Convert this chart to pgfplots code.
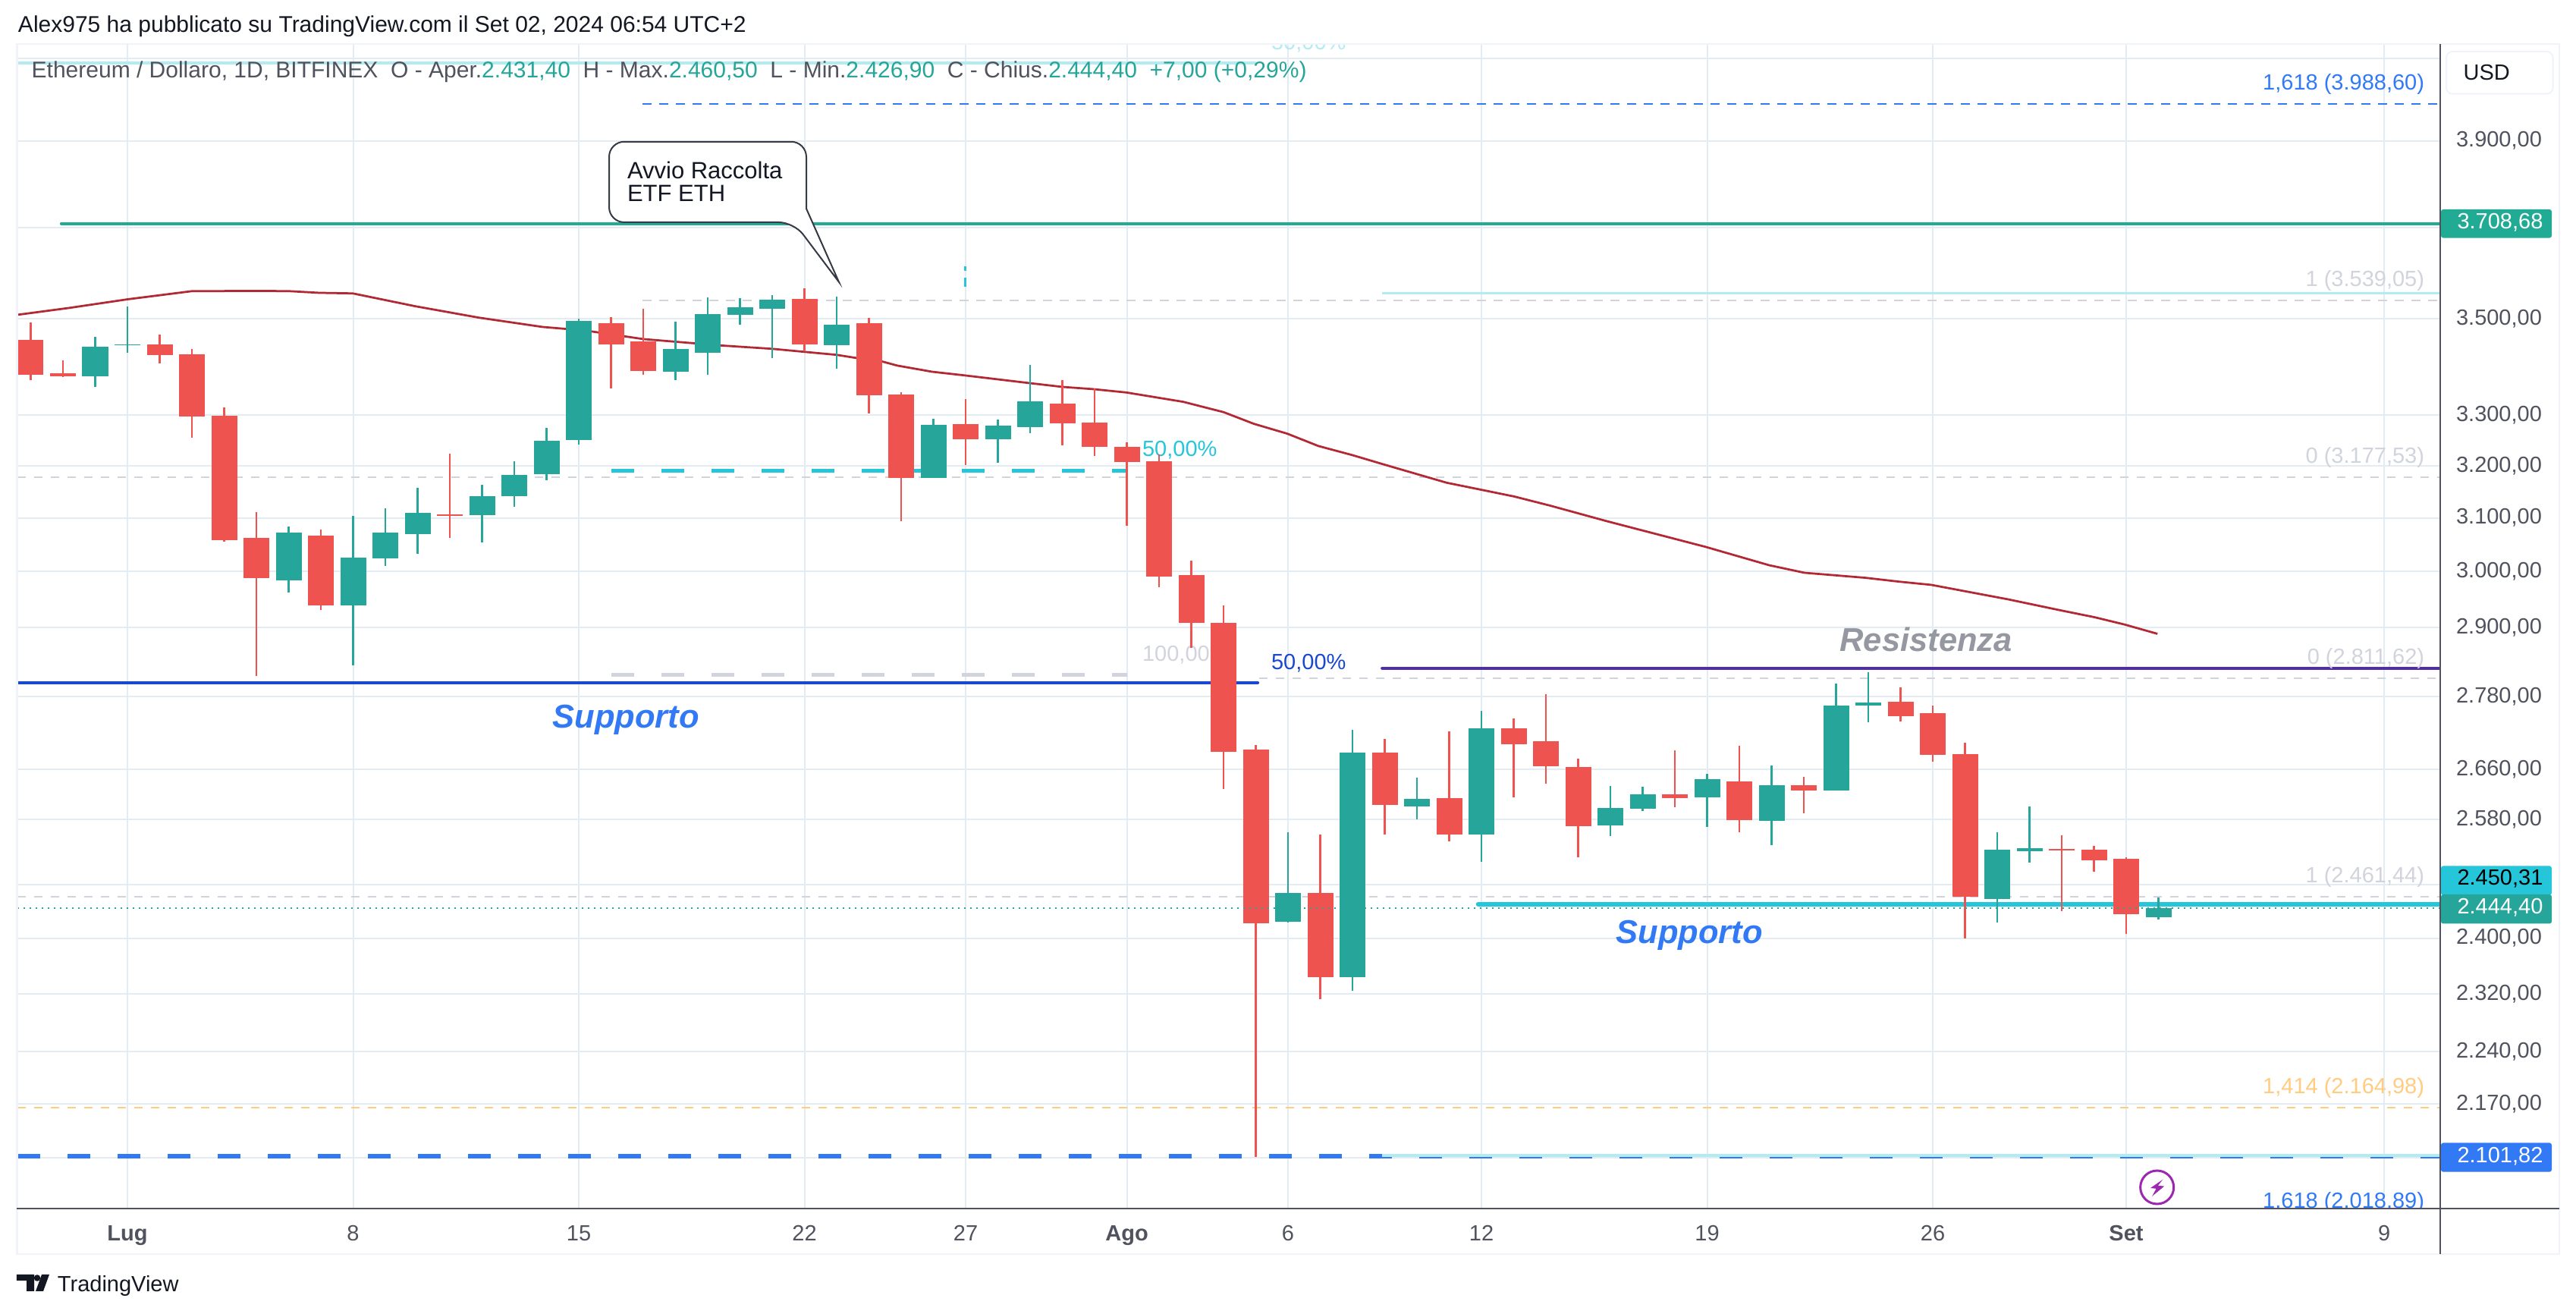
\documentclass[border=0pt]{standalone}
\usepackage{pgfplots}
\pgfplotsset{compat=1.18}
\usepackage{fontspec}
\setmainfont{Liberation Sans}
\definecolor{cGreen}{HTML}{26A69A}
\definecolor{cRed}{HTML}{EF5350}
\definecolor{cGrid}{HTML}{E3ECF2}
\definecolor{cFrame}{HTML}{F0F3FA}
\definecolor{cAxis}{HTML}{50535E}
\definecolor{cMA}{HTML}{B22833}
\definecolor{cTeal}{HTML}{22AB94}
\definecolor{cCyan}{HTML}{26C6DA}
\definecolor{cLCyan}{HTML}{B2EBF2}
\definecolor{cBlue}{HTML}{3179F5}
\definecolor{cDBlue}{HTML}{1848CC}
\definecolor{cPurple}{HTML}{512DA8}
\definecolor{cGray}{HTML}{D1D4DC}
\definecolor{cOrange}{HTML}{FFCC80}
\definecolor{cDark}{HTML}{131722}
\definecolor{cOut}{HTML}{363A45}
\definecolor{cRes}{HTML}{9598A1}
\definecolor{cBolt}{HTML}{9C27B0}
\newcommand{\fs}{\fontsize{5.8}{7}\selectfont}
\newcommand{\cu}[5]{%
  \addplot[cGreen,line width=0.45pt] coordinates {(#1,#4)(#1,#3)};
  \addplot[cGreen,line width=6.8pt] coordinates {(#1,#2)(#1,#5)};}
\newcommand{\cd}[5]{%
  \addplot[cRed,line width=0.45pt] coordinates {(#1,#4)(#1,#3)};
  \addplot[cRed,line width=6.8pt] coordinates {(#1,#2)(#1,#5)};}
\newcommand{\hl}[4]{\addplot[#1] coordinates {(#2,#4)(#3,#4)};}
\begin{document}
\begin{tikzpicture}
\path[use as bounding box,fill=white] (0,0) rectangle (679.2pt,346.2pt);
\begin{axis}[
  at={(4.5pt,27.6pt)},anchor=south west,
  scale only axis,width=638.9pt,height=307pt,
  ymode=log,
  xmin=-3.4235,xmax=71.741,ymin=2035.9,ymax=4137,
  axis line style={draw=none},
  tick style={draw=none},
  grid=major,
  major grid style={cGrid,line width=0.4pt},
  xtick={0,7,14,21,26,31,36,42,49,56,62,70},
  xticklabels={\textbf{Lug},8,15,22,27,\textbf{Ago},6,12,19,26,\textbf{Set},9},
  xticklabel style={anchor=north,inner sep=0pt,yshift=-4.3pt,font=\fs,text=cAxis},
  ytick={4100,3900,3700,3500,3300,3200,3100,3000,2900,2780,2660,2580,2480,2400,2320,2240,2170,2100},
  yticklabels={,{3.900,00},,{3.500,00},{3.300,00},{3.200,00},{3.100,00},{3.000,00},{2.900,00},{2.780,00},{2.660,00},{2.580,00},,{2.400,00},{2.320,00},{2.240,00},{2.170,00},},
  yticklabel pos=right,
  yticklabel style={anchor=west,inner sep=0pt,xshift=4pt,font=\fs,text=cAxis},
  every axis plot/.append style={forget plot},
]
% horizontal levels
\hl{cLCyan,line width=0.8pt}{-3.42}{35.01}{4089}
\hl{cBlue,line width=0.4pt,dash pattern=on 2.3pt off 2.1pt}{15.98}{71.74}{3988.6}
\hl{cTeal,line width=0.8pt,line cap=round}{-2.05}{71.74}{3708.68}
\hl{cLCyan,line width=0.7pt}{38.92}{71.74}{3554}
\hl{cGray,line width=0.4pt,dash pattern=on 2.3pt off 2.1pt}{15.98}{71.74}{3539.05}
\hl{cGray,line width=0.4pt,dash pattern=on 2.3pt off 2.1pt}{-3.42}{71.74}{3177.53}
\hl{cCyan,line width=1pt,dash pattern=on 6pt off 7.2pt}{15.01}{31}{3190.5}
\hl{cGray,line width=1pt,dash pattern=on 6pt off 7.2pt}{15.01}{31}{2818}
\hl{cGray,line width=0.4pt,dash pattern=on 2.3pt off 2.1pt}{35.1}{71.74}{2811.62}
\hl{cDBlue,line width=0.8pt,line cap=round}{-3.42}{35.06}{2804}
\hl{cPurple,line width=0.8pt,line cap=round}{38.92}{71.74}{2829}
\hl{cGray,line width=0.4pt,dash pattern=on 2.3pt off 2.1pt}{-3.42}{71.74}{2461.44}
\hl{cCyan,line width=1.2pt,line cap=round}{41.9}{71.74}{2450.31}
\hl{cOrange,line width=0.4pt,dash pattern=on 2.3pt off 2.1pt}{-3.42}{71.74}{2164.98}
\hl{cBlue,line width=1.2pt,dash pattern=on 6pt off 7.2pt}{-3.42}{71.74}{2101.82}
\hl{cLCyan,line width=0.8pt}{38.92}{71.74}{2103}
\addplot[cCyan,line width=0.6pt] coordinates {(25.98,3613)(25.98,3603)};
\addplot[cCyan,line width=0.6pt] coordinates {(25.98,3588)(25.98,3569)};
% level labels
\node[anchor=east,inner sep=0pt,yshift=5.2pt,font=\fs,text=cBlue] at (axis cs:71.27,3988.6) {1,618 (3.988,60)};
\node[anchor=east,inner sep=0pt,yshift=5.2pt,font=\fs,text=cGray] at (axis cs:71.27,3539.05) {1 (3.539,05)};
\node[anchor=east,inner sep=0pt,yshift=5.2pt,font=\fs,text=cGray] at (axis cs:71.27,3177.53) {0 (3.177,53)};
\node[anchor=east,inner sep=0pt,yshift=5.2pt,font=\fs,text=cGray] at (axis cs:71.27,2811.62) {0 (2.811,62)};
\node[anchor=east,inner sep=0pt,yshift=5.2pt,font=\fs,text=cGray] at (axis cs:71.27,2461.44) {1 (2.461,44)};
\node[anchor=east,inner sep=0pt,yshift=5.2pt,font=\fs,text=cOrange] at (axis cs:71.27,2164.98) {1,414 (2.164,98)};
\node[anchor=east,inner sep=0pt,yshift=5.2pt,font=\fs,text=cBlue] at (axis cs:71.27,2018.89) {1,618 (2.018,89)};
\node[anchor=west,inner sep=0pt,yshift=5.4pt,font=\fs,text=cCyan] at (axis cs:31.46,3190.5) {50,00\%};
\node[anchor=west,inner sep=0pt,yshift=5.2pt,font=\fs,text=cGray] at (axis cs:31.46,2818) {100,00\%};
\node[anchor=west,inner sep=0pt,yshift=5.2pt,font=\fs,text=cDBlue] at (axis cs:35.46,2804) {50,00\%};
\node[anchor=west,inner sep=0pt,yshift=5.2pt,font=\fs,text=cLCyan] at (axis cs:35.46,4089) {50,00\%};
\node[inner sep=0pt,text=cBlue,font=\fontsize{8.7}{10}\selectfont\bfseries\itshape] at (axis cs:15.46,2741) {Supporto};
\node[inner sep=0pt,text=cBlue,font=\fontsize{8.7}{10}\selectfont\bfseries\itshape] at (axis cs:48.45,2404) {Supporto};
\node[inner sep=0pt,text=cRes,font=\fontsize{8.7}{10}\selectfont\bfseries\itshape] at (axis cs:55.79,2879) {Resistenza};
% moving average
\addplot[cMA,line width=0.55pt] coordinates {
(-3.42,3508)(-1.81,3522.8)(0,3541.3)(1.99,3558.6)(4.14,3559.3)(5.04,3558.6)(5.95,3555.3)(6.99,3554)
(8.92,3526.5)(10.9,3502)(12.88,3482)(14.21,3474.5)(15.36,3463)(16,3456.6)(18.4,3443)(20,3436)
(20.99,3429.8)(22,3423.6)(22.56,3417.4)(23.41,3409.6)(23.88,3401)(24.96,3388.5)(25.98,3380.7)
(27.98,3365)(28.99,3357.4)(29.98,3352.7)(30.99,3345.7)(32.75,3327)(34,3306)(34.94,3282.5)
(35.98,3263)(36.94,3238.6)(38,3220.7)(38.94,3203)(40.92,3167)(41.98,3153.6)(43.01,3140.6)
(44.14,3123)(45.88,3093.8)(48.96,3045.5)(50.92,3012)(52.02,2998)(53.91,2988.8)(54.94,2982)
(55.95,2976)(58.33,2950)(59.9,2931)(61.02,2918)(61.95,2905)(62.97,2888.6)};
% candles: day, open, high, low, close
\cd{-3}{3455}{3492}{3371}{3382}
\cd{-2}{3385.2}{3412}{3377.4}{3379}
\cu{-1}{3379}{3461.5}{3357.4}{3440.5}
\cu{0}{3443}{3526}{3427.9}{3446}
\cd{1}{3445.7}{3465.8}{3405.8}{3423.3}
\cd{2}{3424.6}{3435.9}{3255}{3297.6}
\cd{3}{3299}{3315.4}{3055.6}{3058.2}
\cd{4}{3062.7}{3111}{2815.5}{2987.7}
\cu{5}{2984.6}{3084}{2962.3}{3072.3}
\cd{6}{3066.6}{3078.3}{2931.2}{2939.4}
\cu{7}{2939.4}{3103.8}{2833.7}{3026}
\cu{8}{3024.5}{3118}{3011.2}{3072.3}
\cu{9}{3069.8}{3157.4}{3033}{3109.5}
\cd{10}{3106.9}{3223.8}{3062.7}{3103.8}
\cu{11}{3105.4}{3163.1}{3054}{3141.5}
\cu{12}{3141.5}{3208.9}{3121}{3181.8}
\cu{13}{3183.4}{3274.9}{3172}{3249}
\cu{14}{3250.7}{3499.8}{3241.4}{3495}
\cd{15}{3490}{3503.2}{3354.1}{3445.7}
\cd{16}{3452.4}{3520.8}{3382.4}{3390.2}
\cu{17}{3388.5}{3493.4}{3371.2}{3435.9}
\cu{18}{3427.9}{3545.3}{3382.4}{3509.7}
\cu{19}{3508}{3544}{3487.3}{3524.3}
\cu{20}{3520.8}{3550.6}{3416.6}{3540.6}
\cd{21}{3542.4}{3565.3}{3432.7}{3445.7}
\cu{22}{3444}{3547}{3394.6}{3487.3}
\cd{23}{3490}{3501.6}{3303.6}{3340.1}
\cd{24}{3341.7}{3346.3}{3093.6}{3176.3}
\cu{25}{3176.3}{3293.2}{3176.3}{3280.9}
\cd{26}{3282.5}{3332.4}{3201.6}{3252.3}
\cu{27}{3252.3}{3291.9}{3205.9}{3279.2}
\cu{28}{3276.3}{3402.5}{3264.4}{3327.6}
\cd{29}{3323.1}{3371.2}{3240}{3284.1}
\cd{30}{3285.3}{3354.1}{3219}{3237.3}
\cd{31}{3237.3}{3246.2}{3085.4}{3207.4}
\cd{32}{3208.9}{3222.3}{2972.3}{2991.7}
\cd{33}{2993.2}{3020}{2863.8}{2907.7}
\cd{34}{2907.7}{2939.1}{2628.2}{2688.6}
\cd{35}{2692}{2699.9}{2101}{2422.2}
\cu{36}{2424.5}{2559.3}{2423}{2466.4}
\cd{37}{2467.2}{2556.8}{2312.5}{2344.2}
\cu{38}{2344.1}{2724.8}{2324.5}{2687.2}
\cd{39}{2687.2}{2709.8}{2556.6}{2602.9}
\cu{40}{2600.7}{2646.4}{2580.4}{2611.9}
\cd{41}{2614}{2722.4}{2546.1}{2556.6}
\cu{42}{2556.6}{2756.4}{2514.4}{2727.6}
\cd{43}{2727.6}{2743}{2615.1}{2700.9}
\cd{44}{2705.9}{2784.5}{2637}{2665.1}
\cd{45}{2663.7}{2677.4}{2521.3}{2569.8}
\cu{46}{2571}{2633.1}{2554.1}{2598}
\cu{47}{2596.8}{2632}{2593.7}{2619.4}
\cd{48}{2619.4}{2691.2}{2599.4}{2613.3}
\cu{49}{2615.1}{2652.9}{2568.5}{2644.2}
\cd{50}{2640.6}{2698.7}{2560}{2579.1}
\cu{51}{2578}{2666.4}{2540.3}{2634.4}
\cd{52}{2634.4}{2648}{2589.1}{2625.8}
\cu{53}{2625.9}{2802.6}{2625.9}{2765.4}
\cu{54}{2765.4}{2822}{2737}{2770.5}
\cd{55}{2771.8}{2796.2}{2738.2}{2747.6}
\cd{56}{2752.7}{2765.4}{2672.5}{2683.6}
\cd{57}{2684.8}{2703.3}{2399.7}{2461.6}
\cu{58}{2458}{2560.1}{2423.2}{2533}
\cu{59}{2530.7}{2600.6}{2512.6}{2535.3}
\cd{60}{2534.2}{2555.4}{2440}{2531.9}
\cd{61}{2533}{2539}{2499.4}{2516.7}
\cd{62}{2519}{2521.3}{2406.4}{2435.6}
\cu{63}{2431.4}{2460.5}{2426.9}{2444.4}
% last price line
\addplot[cGreen,line width=0.4pt,dash pattern=on 0.4pt off 1.2pt] coordinates {(-3.42,2444.4)(71.74,2444.4)};
\end{axis}
\begin{scope}[shift={(0,346.2pt)},x=0.2pt,y=-0.2pt]
% frame
\draw[cFrame,line width=0.5pt] (22.5,58) rectangle (3374,1653);
\draw[cAxis,line width=0.5pt] (22.5,1593) -- (3374,1593);
\draw[cAxis,line width=0.55pt] (3217,58) -- (3217,1653);
% USD box
\draw[cFrame,line width=0.4pt,rounded corners=1.6pt] (3225,68) rectangle (3365.6,123.6);
\node[anchor=west,inner sep=0pt,font=\fs,text=cDark] at (3246.6,95.7) {USD};
% price tags
\fill[cTeal,rounded corners=0.6pt] (3218,276) rectangle (3364,313.6);
\node[inner sep=0pt,font=\fs,text=white] at (3296,293) {3.708,68};
\fill[cCyan,rounded corners=0.6pt] (3218,1141.4) rectangle (3364,1180);
\node[inner sep=0pt,font=\fs,text=black] at (3296,1158) {2.450,31};
\fill[cGreen,rounded corners=0.6pt] (3218,1179) rectangle (3364,1217.5);
\node[inner sep=0pt,font=\fs,text=white] at (3296,1196) {2.444,40};
\fill[cBlue,rounded corners=0.6pt] (3218,1506.4) rectangle (3364,1544.7);
\node[inner sep=0pt,font=\fs,text=white] at (3296,1524) {2.101,82};
% callout
\draw[cOut,line width=0.4pt,fill=white,rounded corners=4pt] (1063,250) -- (1063,186.8) -- (803,186.8) -- (803,293) -- (1046.7,293) [sharp corners] -- (1106,371.8) -- (1063,275) -- cycle;
\node[anchor=west,inner sep=0pt,font=\fontsize{6.2}{7}\selectfont,text=cDark] at (826,224) {Avvio Raccolta};
\node[anchor=west,inner sep=0pt,font=\fontsize{6.2}{7}\selectfont,text=cDark] at (826,255) {ETF ETH};
% header texts
\node[anchor=west,inner sep=0pt,font=\fontsize{6}{7}\selectfont,text=cDark] at (23,34.6) {Alex975 ha pubblicato su TradingView.com il Set 02, 2024 06:54 UTC+2};
\node[anchor=west,inner sep=0pt,font=\fontsize{6}{7}\selectfont,text=cAxis] at (40.7,94.6) {Ethereum / Dollaro, 1D, BITFINEX\ \ O - Aper.\textcolor{cGreen}{2.431,40}\ \ H - Max.\textcolor{cGreen}{2.460,50}\ \ L - Min.\textcolor{cGreen}{2.426,90}\ \ C - Chius.\textcolor{cGreen}{2.444,40\ \ +7,00 (+0,29\%)}};
% lightning icon
\draw[cBolt,line width=0.6pt] (2843.7,1565) circle (22);
\fill[cBolt] (2851.3,1554.7)--(2835,1566)--(2842.6,1566.8)--(2837.2,1576.8)--(2853.2,1563.6)--(2844.9,1562.8)--cycle;
% logo
\fill[cDark] (22,1680)--(45,1680)--(45,1702)--(35,1702)--(35,1688)--(22,1688)--cycle;
\fill[cDark] (49,1684.5) circle (4.3);
\fill[cDark] (55,1680)--(65,1680)--(57,1702)--(47,1702)--cycle;
\node[anchor=west,inner sep=0pt,font=\fs,text=cDark] at (75,1695) {TradingView};
\end{scope}
\end{tikzpicture}
\end{document}
